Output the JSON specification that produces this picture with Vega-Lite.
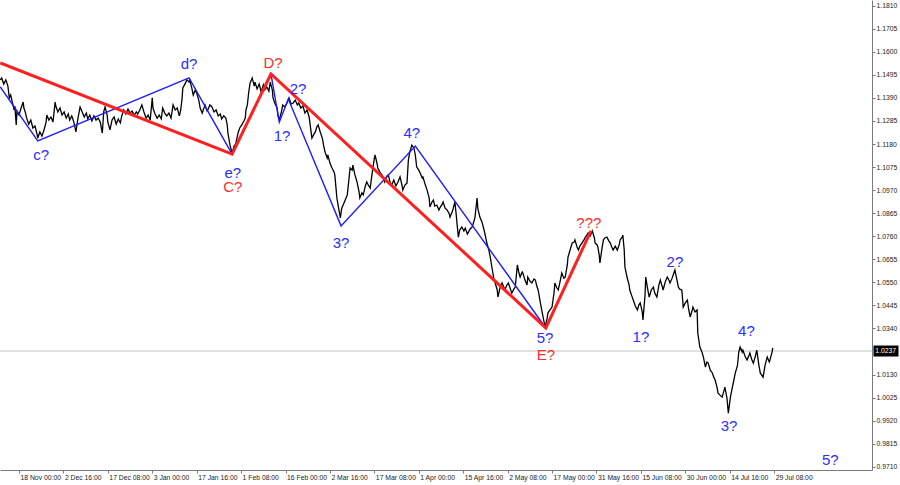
{
"$schema": "https://vega.github.io/schema/vega-lite/v6.json",
"width": 872, "height": 470, "padding": {"left":0,"top":0,"right":28,"bottom":15}, "autosize": {"type": "none"},
"background": "#ffffff",
"config": {"view": {"stroke": null}},
"datasets": {
"price": [
{"t":37,"p":1.1472},{"t":39,"p":1.1481},{"t":42,"p":1.1453},{"t":45,"p":1.1472},{"t":48,"p":1.1444},{"t":50,"p":1.1390},{"t":52,"p":1.1403},{"t":55,"p":1.1362},{"t":57,"p":1.1335},{"t":58,"p":1.1353},{"t":60,"p":1.1267},{"t":61,"p":1.1326},{"t":64,"p":1.1312},{"t":67,"p":1.1344},{"t":70,"p":1.1371},{"t":71,"p":1.1344},{"t":73,"p":1.1326},{"t":75,"p":1.1298},{"t":78,"p":1.1271},{"t":81,"p":1.1289},{"t":84,"p":1.1253},{"t":87,"p":1.1262},{"t":90,"p":1.1225},{"t":91,"p":1.1207},{"t":94,"p":1.1235},{"t":97,"p":1.1216},{"t":100,"p":1.1244},{"t":103,"p":1.1280},{"t":104,"p":1.1312},{"t":107,"p":1.1289},{"t":110,"p":1.1303},{"t":113,"p":1.1280},{"t":116,"p":1.1371},{"t":117,"p":1.1353},{"t":120,"p":1.1326},{"t":123,"p":1.1344},{"t":126,"p":1.1312},{"t":129,"p":1.1326},{"t":132,"p":1.1298},{"t":135,"p":1.1317},{"t":137,"p":1.1289},{"t":140,"p":1.1308},{"t":143,"p":1.1280},{"t":146,"p":1.1235},{"t":149,"p":1.1298},{"t":152,"p":1.1349},{"t":155,"p":1.1326},{"t":158,"p":1.1303},{"t":161,"p":1.1321},{"t":163,"p":1.1294},{"t":166,"p":1.1312},{"t":169,"p":1.1285},{"t":172,"p":1.1308},{"t":175,"p":1.1289},{"t":178,"p":1.1298},{"t":181,"p":1.1280},{"t":184,"p":1.1230},{"t":186,"p":1.1326},{"t":188,"p":1.1349},{"t":191,"p":1.1312},{"t":192,"p":1.1280},{"t":195,"p":1.1244},{"t":198,"p":1.1289},{"t":201,"p":1.1303},{"t":204,"p":1.1271},{"t":207,"p":1.1294},{"t":210,"p":1.1276},{"t":212,"p":1.1308},{"t":215,"p":1.1335},{"t":218,"p":1.1317},{"t":221,"p":1.1339},{"t":224,"p":1.1321},{"t":227,"p":1.1330},{"t":230,"p":1.1312},
{"t":233,"p":1.1326},{"t":235,"p":1.1317},{"t":238,"p":1.1335},{"t":241,"p":1.1358},{"t":244,"p":1.1326},{"t":247,"p":1.1298},{"t":250,"p":1.1312},{"t":253,"p":1.1289},{"t":256,"p":1.1390},{"t":257,"p":1.1344},{"t":260,"p":1.1317},{"t":263,"p":1.1298},{"t":266,"p":1.1312},{"t":269,"p":1.1294},{"t":271,"p":1.1344},{"t":274,"p":1.1321},{"t":277,"p":1.1308},{"t":280,"p":1.1321},{"t":283,"p":1.1298},{"t":286,"p":1.1358},{"t":289,"p":1.1335},{"t":292,"p":1.1344},{"t":295,"p":1.1308},{"t":297,"p":1.1335},{"t":299,"p":1.1390},{"t":300,"p":1.1435},{"t":303,"p":1.1453},{"t":306,"p":1.1472},{"t":309,"p":1.1462},{"t":310,"p":1.1472},{"t":313,"p":1.1435},{"t":315,"p":1.1403},{"t":318,"p":1.1426},{"t":320,"p":1.1412},{"t":323,"p":1.1380},{"t":325,"p":1.1344},{"t":328,"p":1.1321},{"t":331,"p":1.1349},{"t":332,"p":1.1358},{"t":335,"p":1.1330},{"t":336,"p":1.1335},{"t":339,"p":1.1358},{"t":342,"p":1.1349},{"t":345,"p":1.1326},{"t":348,"p":1.1335},{"t":351,"p":1.1308},{"t":354,"p":1.1317},{"t":356,"p":1.1294},{"t":359,"p":1.1308},{"t":362,"p":1.1298},{"t":364,"p":1.1267},{"t":365,"p":1.1230},{"t":368,"p":1.1175},{"t":371,"p":1.1139},{"t":374,"p":1.1171},{"t":375,"p":1.1162},{"t":378,"p":1.1207},{"t":380,"p":1.1235},{"t":382,"p":1.1253},{"t":385,"p":1.1267},{"t":388,"p":1.1285},{"t":390,"p":1.1298},{"t":391,"p":1.1335},{"t":393,"p":1.1358},{"t":395,"p":1.1417},{"t":397,"p":1.1458},{"t":400,"p":1.1481},{"t":403,"p":1.1444},{"t":404,"p":1.1462},{"t":407,"p":1.1431},{"t":410,"p":1.1453},{"t":413,"p":1.1417},{"t":416,"p":1.1449},
{"t":418,"p":1.1426},{"t":421,"p":1.1440},{"t":424,"p":1.1421},{"t":426,"p":1.1462},{"t":429,"p":1.1426},{"t":430,"p":1.1390},{"t":433,"p":1.1362},{"t":436,"p":1.1344},{"t":437,"p":1.1312},{"t":439,"p":1.1289},{"t":442,"p":1.1326},{"t":444,"p":1.1358},{"t":447,"p":1.1349},{"t":450,"p":1.1367},{"t":453,"p":1.1390},{"t":456,"p":1.1362},{"t":459,"p":1.1367},{"t":462,"p":1.1380},{"t":465,"p":1.1358},{"t":467,"p":1.1367},{"t":470,"p":1.1344},{"t":473,"p":1.1353},{"t":476,"p":1.1321},{"t":479,"p":1.1335},{"t":482,"p":1.1303},{"t":483,"p":1.1280},{"t":486,"p":1.1207},{"t":489,"p":1.1225},{"t":491,"p":1.1235},{"t":493,"p":1.1257},{"t":495,"p":1.1267},{"t":498,"p":1.1235},{"t":501,"p":1.1207},{"t":503,"p":1.1171},{"t":505,"p":1.1143},{"t":508,"p":1.1116},{"t":509,"p":1.1130},{"t":512,"p":1.1093},{"t":515,"p":1.1071},{"t":518,"p":1.1052},{"t":519,"p":1.1039},{"t":521,"p":1.0970},{"t":522,"p":1.0934},{"t":525,"p":1.0879},{"t":527,"p":1.0843},{"t":529,"p":1.0888},{"t":531,"p":1.0902},{"t":534,"p":1.0925},{"t":537,"p":1.0948},{"t":540,"p":1.1039},{"t":541,"p":1.1071},{"t":544,"p":1.1061},{"t":545,"p":1.1084},{"t":548,"p":1.1039},{"t":551,"p":1.1007},{"t":554,"p":1.0961},{"t":555,"p":1.0934},{"t":558,"p":1.0957},{"t":560,"p":1.0948},{"t":563,"p":1.0989},{"t":565,"p":1.1007},{"t":568,"p":1.0989},{"t":570,"p":1.0979},{"t":573,"p":1.1052},{"t":576,"p":1.1116},{"t":577,"p":1.1130},{"t":580,"p":1.1089},{"t":581,"p":1.1071},{"t":584,"p":1.1052},{"t":587,"p":1.1039},{"t":590,"p":1.1016},{"t":591,"p":1.1007},{"t":594,"p":1.1034},{"t":596,"p":1.1039},{"t":599,"p":1.1002},{"t":601,"p":1.0993},
{"t":604,"p":1.1016},{"t":607,"p":1.0989},{"t":610,"p":1.1007},{"t":613,"p":1.1030},{"t":616,"p":1.0989},{"t":617,"p":1.0970},{"t":620,"p":1.0993},{"t":623,"p":1.1002},{"t":625,"p":1.1107},{"t":627,"p":1.1143},{"t":630,"p":1.1175},{"t":633,"p":1.1162},{"t":635,"p":1.1130},{"t":637,"p":1.1075},{"t":640,"p":1.1061},{"t":642,"p":1.1048},{"t":645,"p":1.1025},{"t":646,"p":1.1030},{"t":649,"p":1.0998},{"t":652,"p":1.0970},{"t":655,"p":1.0934},{"t":656,"p":1.0893},{"t":659,"p":1.0916},{"t":661,"p":1.0925},{"t":663,"p":1.0897},{"t":666,"p":1.0902},{"t":669,"p":1.0879},{"t":671,"p":1.0893},{"t":674,"p":1.0907},{"t":675,"p":1.0916},{"t":678,"p":1.0888},{"t":681,"p":1.0879},{"t":684,"p":1.0861},{"t":685,"p":1.0847},{"t":688,"p":1.0870},{"t":689,"p":1.0879},{"t":692,"p":1.0916},{"t":694,"p":1.0856},{"t":695,"p":1.0820},{"t":697,"p":1.0756},{"t":699,"p":1.0788},{"t":702,"p":1.0802},{"t":705,"p":1.0784},{"t":707,"p":1.0797},{"t":710,"p":1.0770},{"t":711,"p":1.0775},{"t":714,"p":1.0793},{"t":717,"p":1.0802},{"t":720,"p":1.0834},{"t":721,"p":1.0847},{"t":724,"p":1.0934},{"t":725,"p":1.0888},{"t":728,"p":1.0847},{"t":731,"p":1.0825},{"t":733,"p":1.0802},{"t":736,"p":1.0761},{"t":738,"p":1.0729},{"t":741,"p":1.0697},{"t":743,"p":1.0665},{"t":746,"p":1.0606},{"t":748,"p":1.0569},{"t":750,"p":1.0547},{"t":753,"p":1.0515},{"t":754,"p":1.0483},{"t":757,"p":1.0524},{"t":760,"p":1.0547},{"t":763,"p":1.0524},{"t":764,"p":1.0515},{"t":767,"p":1.0538},{"t":769,"p":1.0547},{"t":772,"p":1.0519},{"t":774,"p":1.0501},{"t":777,"p":1.0519},{"t":779,"p":1.0528},{"t":782,"p":1.0629},{"t":784,"p":1.0597},{"t":786,"p":1.0574},{"t":789,"p":1.0597},{"t":790,"p":1.0592},
{"t":793,"p":1.0560},{"t":796,"p":1.0538},{"t":797,"p":1.0574},{"t":800,"p":1.0556},{"t":803,"p":1.0547},{"t":806,"p":1.0565},{"t":808,"p":1.0560},{"t":810,"p":1.0533},{"t":812,"p":1.0515},{"t":815,"p":1.0460},{"t":818,"p":1.0410},{"t":820,"p":1.0378},{"t":822,"p":1.0346},{"t":825,"p":1.0387},{"t":826,"p":1.0410},{"t":829,"p":1.0424},{"t":832,"p":1.0437},{"t":835,"p":1.0506},{"t":836,"p":1.0547},{"t":839,"p":1.0524},{"t":841,"p":1.0515},{"t":844,"p":1.0560},{"t":846,"p":1.0592},{"t":849,"p":1.0569},{"t":851,"p":1.0574},{"t":854,"p":1.0629},{"t":855,"p":1.0665},{"t":858,"p":1.0697},{"t":861,"p":1.0729},{"t":864,"p":1.0733},{"t":865,"p":1.0743},{"t":868,"p":1.0711},{"t":870,"p":1.0697},{"t":872,"p":1.0715},{"t":875,"p":1.0729},{"t":878,"p":1.0743},{"t":880,"p":1.0756},{"t":882,"p":1.0765},{"t":884,"p":1.0775},{"t":887,"p":1.0761},{"t":890,"p":1.0784},{"t":893,"p":1.0752},{"t":894,"p":1.0729},{"t":897,"p":1.0720},{"t":898,"p":1.0711},{"t":900,"p":1.0674},{"t":901,"p":1.0638},{"t":904,"p":1.0706},{"t":906,"p":1.0743},{"t":908,"p":1.0752},{"t":911,"p":1.0756},{"t":914,"p":1.0738},{"t":916,"p":1.0729},{"t":918,"p":1.0711},{"t":920,"p":1.0697},{"t":923,"p":1.0715},{"t":926,"p":1.0697},{"t":929,"p":1.0724},{"t":930,"p":1.0743},{"t":933,"p":1.0756},{"t":934,"p":1.0765},{"t":936,"p":1.0697},{"t":937,"p":1.0620},{"t":940,"p":1.0574},{"t":943,"p":1.0538},{"t":944,"p":1.0515},{"t":947,"p":1.0487},{"t":949,"p":1.0469},{"t":952,"p":1.0442},{"t":955,"p":1.0424},{"t":957,"p":1.0446},{"t":959,"p":1.0456},{"t":962,"p":1.0415},{"t":963,"p":1.0378},{"t":966,"p":1.0492},{"t":967,"p":1.0574},{"t":970,"p":1.0515},{"t":972,"p":1.0483},{"t":975,"p":1.0515},{"t":978,"p":1.0528},
{"t":980,"p":1.0501},{"t":983,"p":1.0483},{"t":986,"p":1.0538},{"t":988,"p":1.0560},{"t":991,"p":1.0528},{"t":992,"p":1.0515},{"t":995,"p":1.0551},{"t":998,"p":1.0574},{"t":1001,"p":1.0556},{"t":1002,"p":1.0547},{"t":1005,"p":1.0569},{"t":1008,"p":1.0597},{"t":1009,"p":1.0606},{"t":1012,"p":1.0560},{"t":1014,"p":1.0528},{"t":1016,"p":1.0519},{"t":1019,"p":1.0515},{"t":1021,"p":1.0437},{"t":1024,"p":1.0456},{"t":1027,"p":1.0469},{"t":1029,"p":1.0424},{"t":1031,"p":1.0392},{"t":1034,"p":1.0424},{"t":1035,"p":1.0437},{"t":1038,"p":1.0415},{"t":1041,"p":1.0424},{"t":1042,"p":1.0319},{"t":1045,"p":1.0255},{"t":1048,"p":1.0232},{"t":1050,"p":1.0210},{"t":1053,"p":1.0164},{"t":1055,"p":1.0187},{"t":1057,"p":1.0182},{"t":1060,"p":1.0150},{"t":1063,"p":1.0137},{"t":1065,"p":1.0118},{"t":1067,"p":1.0105},{"t":1070,"p":1.0068},{"t":1071,"p":1.0046},{"t":1074,"p":1.0036},{"t":1077,"p":1.0027},{"t":1080,"p":1.0059},{"t":1081,"p":1.0073},{"t":1084,"p":1.0023},{"t":1086,"p":0.9954},{"t":1089,"p":1.0027},{"t":1091,"p":1.0059},{"t":1094,"p":1.0105},{"t":1096,"p":1.0137},{"t":1099,"p":1.0169},{"t":1100,"p":1.0196},{"t":1101,"p":1.0232},{"t":1103,"p":1.0255},{"t":1106,"p":1.0232},{"t":1107,"p":1.0241},{"t":1110,"p":1.0214},{"t":1113,"p":1.0196},{"t":1116,"p":1.0219},{"t":1117,"p":1.0228},{"t":1120,"p":1.0196},{"t":1122,"p":1.0182},{"t":1125,"p":1.0214},{"t":1127,"p":1.0241},{"t":1130,"p":1.0173},{"t":1132,"p":1.0137},{"t":1135,"p":1.0123},{"t":1136,"p":1.0118},{"t":1139,"p":1.0173},{"t":1142,"p":1.0210},{"t":1145,"p":1.0187},{"t":1146,"p":1.0196},{"t":1149,"p":1.0232},{"t":1150,"p":1.0251}
],
"wave": [
{"s":"r","c":"r","t":37,"p":1.1549},{"s":"r","c":"r","t":371,"p":1.1134},{"s":"r","c":"r","t":427,"p":1.1499},{"s":"r","c":"r","t":823,"p":1.0342},{"s":"r","c":"r","t":888,"p":1.0784},
{"s":"b1","c":"b","t":37,"p":1.1440},{"s":"b1","c":"b","t":91,"p":1.1194},{"s":"b1","c":"b","t":309,"p":1.1481},{"s":"b1","c":"b","t":371,"p":1.1134},
{"s":"b2","c":"b","t":427,"p":1.1499},{"s":"b2","c":"b","t":439,"p":1.1280},{"s":"b2","c":"b","t":452,"p":1.1385},{"s":"b2","c":"b","t":528,"p":1.0807},{"s":"b2","c":"b","t":635,"p":1.1171},{"s":"b2","c":"b","t":823,"p":1.0342}
],
"labels": [
{"txt":"c?","c":"b","t":96,"p":1.1130},{"txt":"d?","c":"b","t":309,"p":1.1544},{"txt":"e?","c":"b","t":372,"p":1.1048},{"txt":"C?","c":"r","t":372,"p":1.0984},{"txt":"D?","c":"r","t":430,"p":1.1549},{"txt":"1?","c":"b","t":443,"p":1.1216},{"txt":"2?","c":"b","t":466,"p":1.1431},{"txt":"3?","c":"b","t":528,"p":1.0729},{"txt":"4?","c":"b","t":630,"p":1.1230},{"txt":"5?","c":"b","t":822,"p":1.0296},{"txt":"E?","c":"r","t":823,"p":1.0219},{"txt":"???","c":"r","t":885,"p":1.0820},{"txt":"1?","c":"b","t":960,"p":1.0301},{"txt":"2?","c":"b","t":1009,"p":1.0642},{"txt":"3?","c":"b","t":1087,"p":0.9895},{"txt":"4?","c":"b","t":1112,"p":1.0328},{"txt":"5?","c":"b","t":1233,"p":0.9740}
],
"last": [{"t":1150,"p":1.0237,"txt":"1.0237"}]
},
"encoding": {
"x": {"field":"t","type":"quantitative","scale":{"domain":[36.6,1293],"nice":false,"zero":false},
 "axis":{"orient":"bottom","title":null,"grid":false,"values":[64,128,192,256,320,384,448,512,576,640,704,768,832,896,960,1024,1088,1152],
 "labelExpr":"['18 Nov 00:00','2 Dec 16:00','17 Dec 08:00','3 Jan 00:00','17 Jan 16:00','1 Feb 08:00','16 Feb 00:00','2 Mar 16:00','17 Mar 08:00','1 Apr 00:00','15 Apr 16:00','2 May 08:00','17 May 00:00','31 May 16:00','15 Jun 08:00','30 Jun 00:00','14 Jul 16:00','29 Jul 08:00'][round(datum.value/64)-1]",
 "labelAlign":"left","labelOffset":1,"labelFlush":false,"labelOverlap":false,"labelBound":false,"tickSize":3,"labelPadding":1,"labelFont":"Liberation Sans","labelFontSize":6.8,"labelColor":"#222222","domainColor":"#7a7a7a","tickColor":"#7a7a7a"}},
"y": {"field":"p","type":"quantitative","scale":{"domain":[0.9695,1.1836],"nice":false,"zero":false},
 "axis":{"orient":"right","title":null,"grid":false,"values":[0.971,0.9815,0.992,1.0025,1.013,1.034,1.0445,1.055,1.0655,1.076,1.0865,1.097,1.1075,1.118,1.1285,1.139,1.1495,1.16,1.1705,1.181],
 "format":".4f","labelFlush":false,"labelOverlap":false,"tickSize":3,"labelPadding":1,"labelFont":"Liberation Sans","labelFontSize":6.8,"labelColor":"#222222","domainColor":"#7a7a7a","tickColor":"#7a7a7a"}}
},
"layer": [
{"data":{"name":"last"},"mark":{"type":"rule","color":"#c4c4c4","strokeWidth":1},"encoding":{"x":null}},
{"data":{"name":"price"},"mark":{"type":"line","color":"#000000","strokeWidth":1.3}},
{"data":{"name":"wave"},"transform":[{"filter":"datum.c == 'b'"}],"mark":{"type":"line","color":"#1c1cff","strokeWidth":1.4},"encoding":{"detail":{"field":"s"}}},
{"data":{"name":"wave"},"transform":[{"filter":"datum.c == 'r'"}],"mark":{"type":"line","color":"#ff1f1f","strokeWidth":3},"encoding":{"detail":{"field":"s"}}},
{"data":{"name":"labels"},"mark":{"type":"text","font":"Liberation Sans","fontSize":15,"align":"center","baseline":"middle"},
 "encoding":{"text":{"field":"txt"},"color":{"field":"c","type":"nominal","scale":{"domain":["b","r"],"range":["#2d2dff","#ff2d2d"]},"legend":null}}},
{"data":{"name":"last"},"mark":{"type":"point","shape":"M0.806,-0.044H1.006V0.044H0.806Z","size":62500,"filled":true,"color":"#000000","opacity":1,"strokeWidth":0,"clip":false}},
{"data":{"name":"last"},"mark":{"type":"text","color":"#ffffff","font":"Liberation Sans","fontSize":6.8,"align":"center","baseline":"middle","dx":113,"clip":false},"encoding":{"text":{"field":"txt"}}}
]
}
